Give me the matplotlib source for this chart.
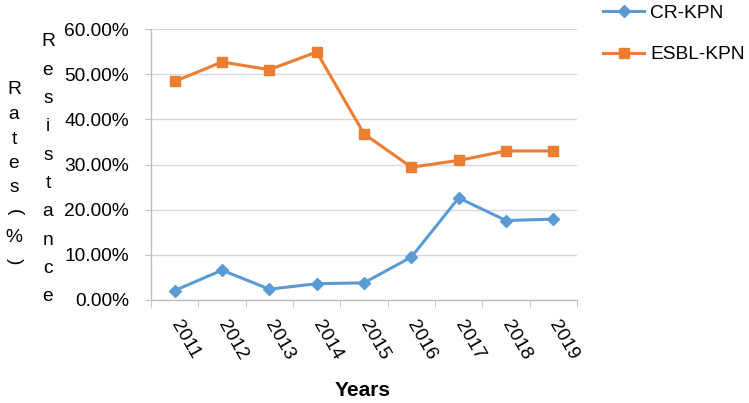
import matplotlib
matplotlib.use("Agg")
import matplotlib.pyplot as plt
from matplotlib.ticker import FuncFormatter, FixedLocator

years = ["2011", "2012", "2013", "2014", "2015", "2016", "2017", "2018", "2019"]
cr_kpn = [2.1, 6.6, 2.4, 3.6, 3.8, 9.5, 22.6, 17.6, 17.9]
esbl_kpn = [48.4, 52.7, 51.0, 54.9, 36.8, 29.4, 30.9, 33.0, 33.0]

plt.rcParams['font.family'] = ['Liberation Sans', 'DejaVu Sans']
fs = 13.8

fig = plt.figure(figsize=(7.49, 4.03), dpi=100)
ax = fig.add_axes([151/749, 1 - 300/403, (577 - 151)/749, (300 - 29)/403])

x = list(range(len(years)))
l1, = ax.plot(x, cr_kpn, color='#5B9BD5', lw=2.2, marker='D', ms=6.5, label='CR-KPN')
l2, = ax.plot(x, esbl_kpn, color='#ED7D31', lw=2.2, marker='s', ms=7.5, label='ESBL-KPN')

ax.set_xlim(-0.5, len(years) - 0.5)
ax.set_ylim(0, 60)
ax.set_yticks(range(0, 61, 10))
ax.yaxis.set_major_formatter(FuncFormatter(lambda v, p: f"{v:.2f}%"))
ax.grid(axis='y', color='#d9d9d9', lw=1)
ax.set_axisbelow(True)
for s in ['top', 'right']:
    ax.spines[s].set_visible(False)
for s in ['left', 'bottom']:
    ax.spines[s].set_color('#bfbfbf')
    ax.spines[s].set_linewidth(1)
ax.tick_params(axis='y', length=4.5, color='#bfbfbf', pad=11.5, labelsize=fs)

ax.set_xticks(x)
ax.set_xticklabels(years, rotation=-60, ha='left', va='center', rotation_mode='anchor', fontsize=fs)
ax.tick_params(axis='x', which='major', length=0, pad=16)
ax.xaxis.set_minor_locator(FixedLocator([i - 0.5 for i in range(len(years) + 1)]))
ax.tick_params(axis='x', which='minor', length=5, color='#bfbfbf', direction='out')

fig.text(363/749, 1 - 390/403, "Years", ha='center', va='center', fontsize=15, fontweight='bold')

# stacked y label
word1 = "Resistance"
for i, ch in enumerate(word1):
    y = 42 + i * 28.3
    fig.text(48/749, 1 - y/403, ch, ha='center', va='center', fontsize=fs)
word2 = "Rates(%)"
for i, ch in enumerate(word2):
    y = 90 + i * 24.5
    rot = -90 if ch in "()" else 0
    fig.text(14/749, 1 - y/403, ch, ha='center', va='center', fontsize=fs, rotation=rot)

fig.legend(handles=[l1, l2], loc='upper left', bbox_to_anchor=(590/749, 1.022),
           frameon=False, fontsize=fs, handlelength=2.1, labelspacing=1.25,
           handletextpad=0.35, borderaxespad=0.3)

fig.savefig("out.png", dpi=100)
